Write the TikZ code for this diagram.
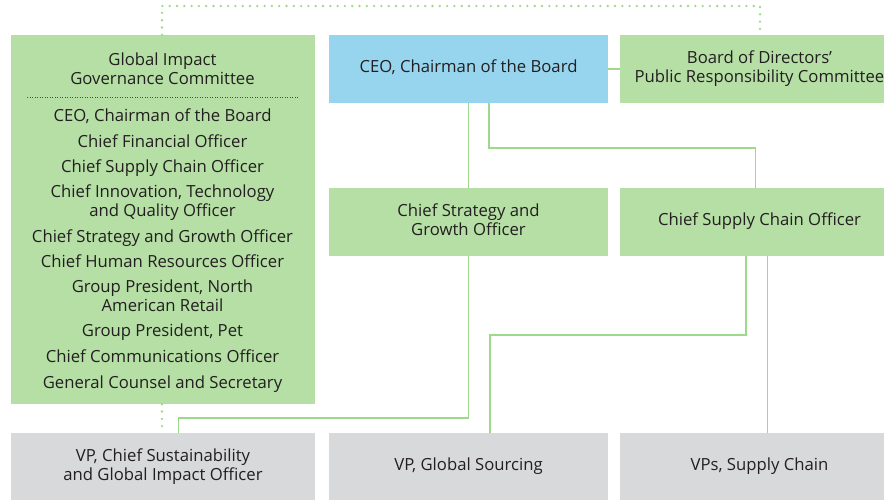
\documentclass[tikz,border=0pt]{standalone}
\usepackage{fontspec}
\setmainfont{Open Sans}
\usepackage{tikz}

\definecolor{boxgreen}{HTML}{B5DFA5}
\definecolor{ceoblue}{HTML}{97D5EE}
\definecolor{vpgrey}{HTML}{D8D9DB}
\definecolor{linegreen}{HTML}{9DD98B}
\definecolor{inkgrey}{HTML}{231F20}

\tikzset{
  box/.style={fill=boxgreen, inner sep=0pt, align=center, text=inkgrey,
    font=\fontsize{16.7}{19}\selectfont,
    execute at begin node=\strut, execute at end node=\strut},
  item/.style={anchor=north, inner sep=0pt, align=center, text=inkgrey,
    font=\fontsize{16.7}{19}\selectfont, execute at begin node=\strut},
  link/.style={draw=linegreen, line width=1.5pt},
  dotlink/.style={draw=linegreen, line width=2.6pt, line cap=round, dash pattern=on 0pt off 7.3pt},
  sepline/.style={draw=inkgrey!80, line width=0.9pt, dash pattern=on 0.9pt off 1.6pt}
}

\begin{document}
\begin{tikzpicture}[x=1pt,y=-1pt]
\useasboundingbox (0,0) rectangle (884,499);
\clip (0,0) rectangle (884,499);
\node[box, minimum width=304, minimum height=369] (gic) at (163,219.5) {};
\node[box, fill=ceoblue, minimum width=279, minimum height=68] (ceo) at (468.5,69) {CEO, Chairman of the Board};
\node[box, minimum width=279, minimum height=68] (board) at (759.5,69) {Board of Directors'\\Public Responsibility Committee};
\node[box, minimum width=279, minimum height=68] (cso) at (468.5,222) {Chief Strategy and\\Growth Officer};
\node[box, minimum width=279, minimum height=68] (csco) at (759.5,222) {Chief Supply Chain Officer};
\node[box, fill=vpgrey, minimum width=304, minimum height=68] (vpcs) at (163,467) {VP, Chief Sustainability\\and Global Impact Officer};
\node[box, fill=vpgrey, minimum width=279, minimum height=68] (vpgs) at (468.5,467) {VP, Global Sourcing};
\node[box, fill=vpgrey, minimum width=279, minimum height=68] (vpsc) at (759.5,467) {VPs, Supply Chain};
% members of the committee
\node[item] (m0) at (162.5,52.4) {Global Impact\\Governance Committee};
\node[item] (m1) at (162.5,108.4) {CEO, Chairman of the Board};
\node[item] (m2) at (162.5,133.7) {Chief Financial Officer};
\node[item] (m3) at (162.5,159.4) {Chief Supply Chain Officer};
\node[item] (m4) at (162.5,185) {Chief Innovation, Technology\\and Quality Officer};
\node[item] (m5) at (162.5,229) {Chief Strategy and Growth Officer};
\node[item] (m6) at (162.5,254.4) {Chief Human Resources Officer};
\node[item] (m7) at (162.5,279.4) {Group President, North\\American Retail};
\node[item] (m8) at (162.5,323.4) {Group President, Pet};
\node[item] (m9) at (162.5,349.4) {Chief Communications Officer};
\node[item] (m10) at (162.5,375) {General Counsel and Secretary};
\draw[sepline] (27,97) -- (299,97);
% bends
\coordinate (t1) at (162,6);
\coordinate (t2) at (760,6);
\coordinate (k1) at (489,148);
\coordinate (k2) at (755.5,148);
\coordinate (k4) at (178.5,418);
\coordinate (k5) at (746,335);
\coordinate (k6) at (490,335);
\coordinate (k7) at (767.5,300);
\draw[link] (ceo.east) -- (board.west);
\draw[link] (ceo.south) -- (cso.north);
\draw[link] (ceo.south -| k1) -- (k1) -- (k2) -- (csco.north -| k2);
\draw[link] (cso.south) |- (k4) -- (vpcs.north -| k4);
\draw[link] (csco.south -| k5) |- (k6) -- (vpgs.north -| k6);
\draw[link] (csco.south -| k7) -- (vpsc.north -| k7);
\draw[dotlink] (gic.north -| t1) |- (t2) -- (board.north -| t2);
\draw[dotlink] (gic.south -| t1) -- (vpcs.north -| t1);
\end{tikzpicture}
\end{document}
